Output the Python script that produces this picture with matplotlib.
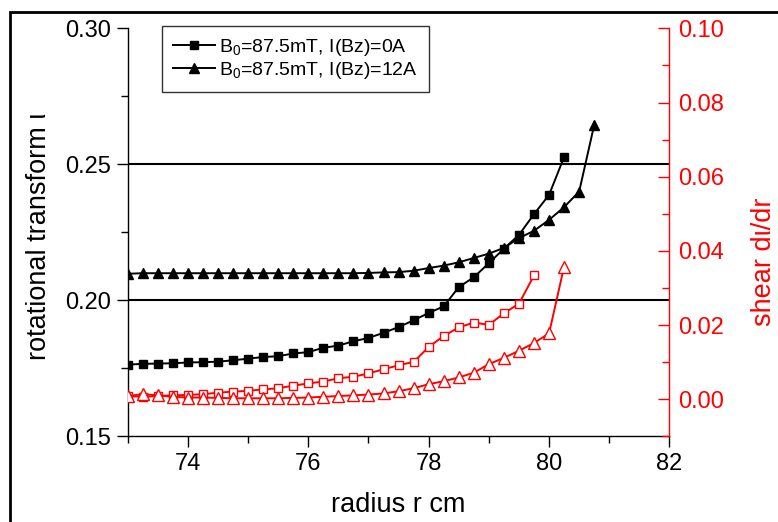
import matplotlib
matplotlib.use("Agg")
import matplotlib.pyplot as plt
from matplotlib.patches import Rectangle
from matplotlib.ticker import MultipleLocator

plt.rcParams['font.family'] = ['Liberation Sans', 'DejaVu Sans']
plt.rcParams['mathtext.default'] = 'regular'

# ---- data ----
r_sq = [73.0, 73.25, 73.5, 73.75, 74.0, 74.25, 74.5, 74.75, 75.0, 75.25,
        75.5, 75.75, 76.0, 76.25, 76.5, 76.75, 77.0, 77.25, 77.5, 77.75,
        78.0, 78.25, 78.5, 78.75, 79.0, 79.25, 79.5, 79.75, 80.0, 80.25]
iota_0A = [0.1764, 0.1767, 0.1768, 0.1769, 0.1772, 0.1773, 0.1775, 0.1780, 0.1786, 0.1792,
           0.1795, 0.1805, 0.1810, 0.1826, 0.1834, 0.1850, 0.1862, 0.1881, 0.1902, 0.1927,
           0.1954, 0.1978, 0.2049, 0.2085, 0.2137, 0.2190, 0.2241, 0.2317, 0.2388, 0.2527]

r_tri = [73.0, 73.25, 73.5, 73.75, 74.0, 74.25, 74.5, 74.75, 75.0, 75.25,
         75.5, 75.75, 76.0, 76.25, 76.5, 76.75, 77.0, 77.25, 77.5, 77.75,
         78.0, 78.25, 78.5, 78.75, 79.0, 79.25, 79.5, 79.75, 80.0, 80.25,
         80.5, 80.75]
iota_12A = [0.2098, 0.2100, 0.2100, 0.2100, 0.2100, 0.2100, 0.2100, 0.2100, 0.2100, 0.2100,
            0.2100, 0.2100, 0.2100, 0.2100, 0.2100, 0.2100, 0.2101, 0.2103, 0.2104, 0.2109,
            0.2119, 0.2128, 0.2140, 0.2156, 0.2172, 0.2193, 0.2229, 0.2256, 0.2296, 0.2343,
            0.2400, 0.2645]

r_shear_0A = [73.0, 73.25, 73.5, 73.75, 74.0, 74.25, 74.5, 74.75, 75.0, 75.25,
              75.5, 75.75, 76.0, 76.25, 76.5, 76.75, 77.0, 77.25, 77.5, 77.75,
              78.0, 78.25, 78.5, 78.75, 79.0, 79.25, 79.5, 79.75]
shear_0A = [0.0009, 0.0007, 0.0009, 0.0011, 0.0012, 0.0014, 0.0018, 0.0021, 0.0023, 0.0027,
            0.0030, 0.0037, 0.0043, 0.0048, 0.0057, 0.0061, 0.0070, 0.0081, 0.0092, 0.0101,
            0.0141, 0.0171, 0.0194, 0.0207, 0.0201, 0.0232, 0.0258, 0.0334]

r_shear_12A = [73.0, 73.25, 73.5, 73.75, 74.0, 74.25, 74.5, 74.75, 75.0, 75.25,
               75.5, 75.75, 76.0, 76.25, 76.5, 76.75, 77.0, 77.25, 77.5, 77.75,
               78.0, 78.25, 78.5, 78.75, 79.0, 79.25, 79.5, 79.75, 80.0, 80.25]
shear_12A = [0.0009, 0.0014, 0.0011, 0.0007, 0.0005, 0.0005, 0.0004, 0.0003, 0.0003, 0.0003,
             0.0003, 0.0004, 0.0005, 0.0007, 0.0009, 0.0011, 0.0013, 0.0016, 0.0022, 0.0030,
             0.0041, 0.0049, 0.0059, 0.0072, 0.0095, 0.0112, 0.0131, 0.0152, 0.0178, 0.0358]

ref_levels = [0.25, 0.20]
labels = ['B$_0$=87.5mT, I(Bz)=0A', 'B$_0$=87.5mT, I(Bz)=12A']

# ---- figure ----
fig = plt.figure(figsize=(7.78, 5.22), dpi=100)
ax = fig.add_axes([0.1641, 0.1638, 0.8605 - 0.1641, 0.9458 - 0.1638])
ax2 = ax.twinx()

for lv in ref_levels:
    ax.axhline(lv, color='black', lw=1.5, zorder=1)

l1, = ax.plot(r_sq, iota_0A, color='black', lw=1.4, marker='s', ms=5.5,
              mfc='black', mec='black', label=labels[0])
l2, = ax.plot(r_tri, iota_12A, color='black', lw=1.4, marker='^', ms=7,
              mfc='black', mec='black', label=labels[1])

ax2.plot(r_shear_0A, shear_0A, color='red', lw=1.4, marker='s', ms=6,
         mfc='white', mec='red', mew=1.0)
ax2.plot(r_shear_12A, shear_12A, color='red', lw=1.4, marker='^', ms=8,
         mfc='white', mec='red', mew=1.0)

ax.set_xlim(73, 82)
ax.set_ylim(0.15, 0.30)
ax2.set_ylim(-0.01, 0.10)

ax.xaxis.set_major_locator(MultipleLocator(2))
ax.xaxis.set_minor_locator(MultipleLocator(1))
ax.yaxis.set_major_locator(MultipleLocator(0.05))
ax.yaxis.set_minor_locator(MultipleLocator(0.025))
ax2.yaxis.set_major_locator(MultipleLocator(0.02))
ax2.yaxis.set_minor_locator(MultipleLocator(0.01))
ax.yaxis.set_major_formatter(matplotlib.ticker.FormatStrFormatter('%.2f'))
ax2.yaxis.set_major_formatter(matplotlib.ticker.FormatStrFormatter('%.2f'))

ax.tick_params(axis='both', which='major', direction='out', length=8, width=1,
               labelsize=17, pad=4)
ax.tick_params(axis='both', which='minor', direction='out', length=5, width=1)
ax2.tick_params(axis='y', which='major', direction='in', length=8, width=1,
                colors='red', labelsize=17, pad=6)
ax2.tick_params(axis='y', which='minor', direction='in', length=5, width=1,
                colors='red')

for s in ['top', 'right']:
    ax.spines[s].set_visible(False)
for s in ['top', 'left', 'bottom']:
    ax2.spines[s].set_visible(False)
ax2.spines['right'].set_color('red')
ax.spines['left'].set_linewidth(1)
ax.spines['bottom'].set_linewidth(1)
ax2.spines['right'].set_linewidth(1)

ax.set_xlabel('radius r cm', fontsize=19.5)
ax.set_ylabel('rotational transform \u03b9', fontsize=19.5)
ax2.set_ylabel('shear d\u03b9/dr', fontsize=19.5, color='red')
ax.xaxis.set_label_coords(0.5, -0.135)
ax.yaxis.set_label_coords(-0.14, 0.49)
ax2.yaxis.set_label_coords(1.150, 0.4275)

leg = ax2.legend(handles=[l1, l2], loc='upper left',
                 bbox_to_anchor=(0.0633, 1.0056), borderaxespad=0,
                 fontsize=14, frameon=True, fancybox=False, edgecolor='black',
                 handlelength=2.2, handletextpad=0.2, labelspacing=0.12,
                 borderpad=0.55)
leg.get_frame().set_linewidth(1.0)

fig.patches.append(Rectangle((10 / 778, -0.1), 1.2, 0.1 + 510 / 522,
                             transform=fig.transFigure, fill=False,
                             edgecolor='black', lw=2))

fig.savefig('out.png', dpi=100)
